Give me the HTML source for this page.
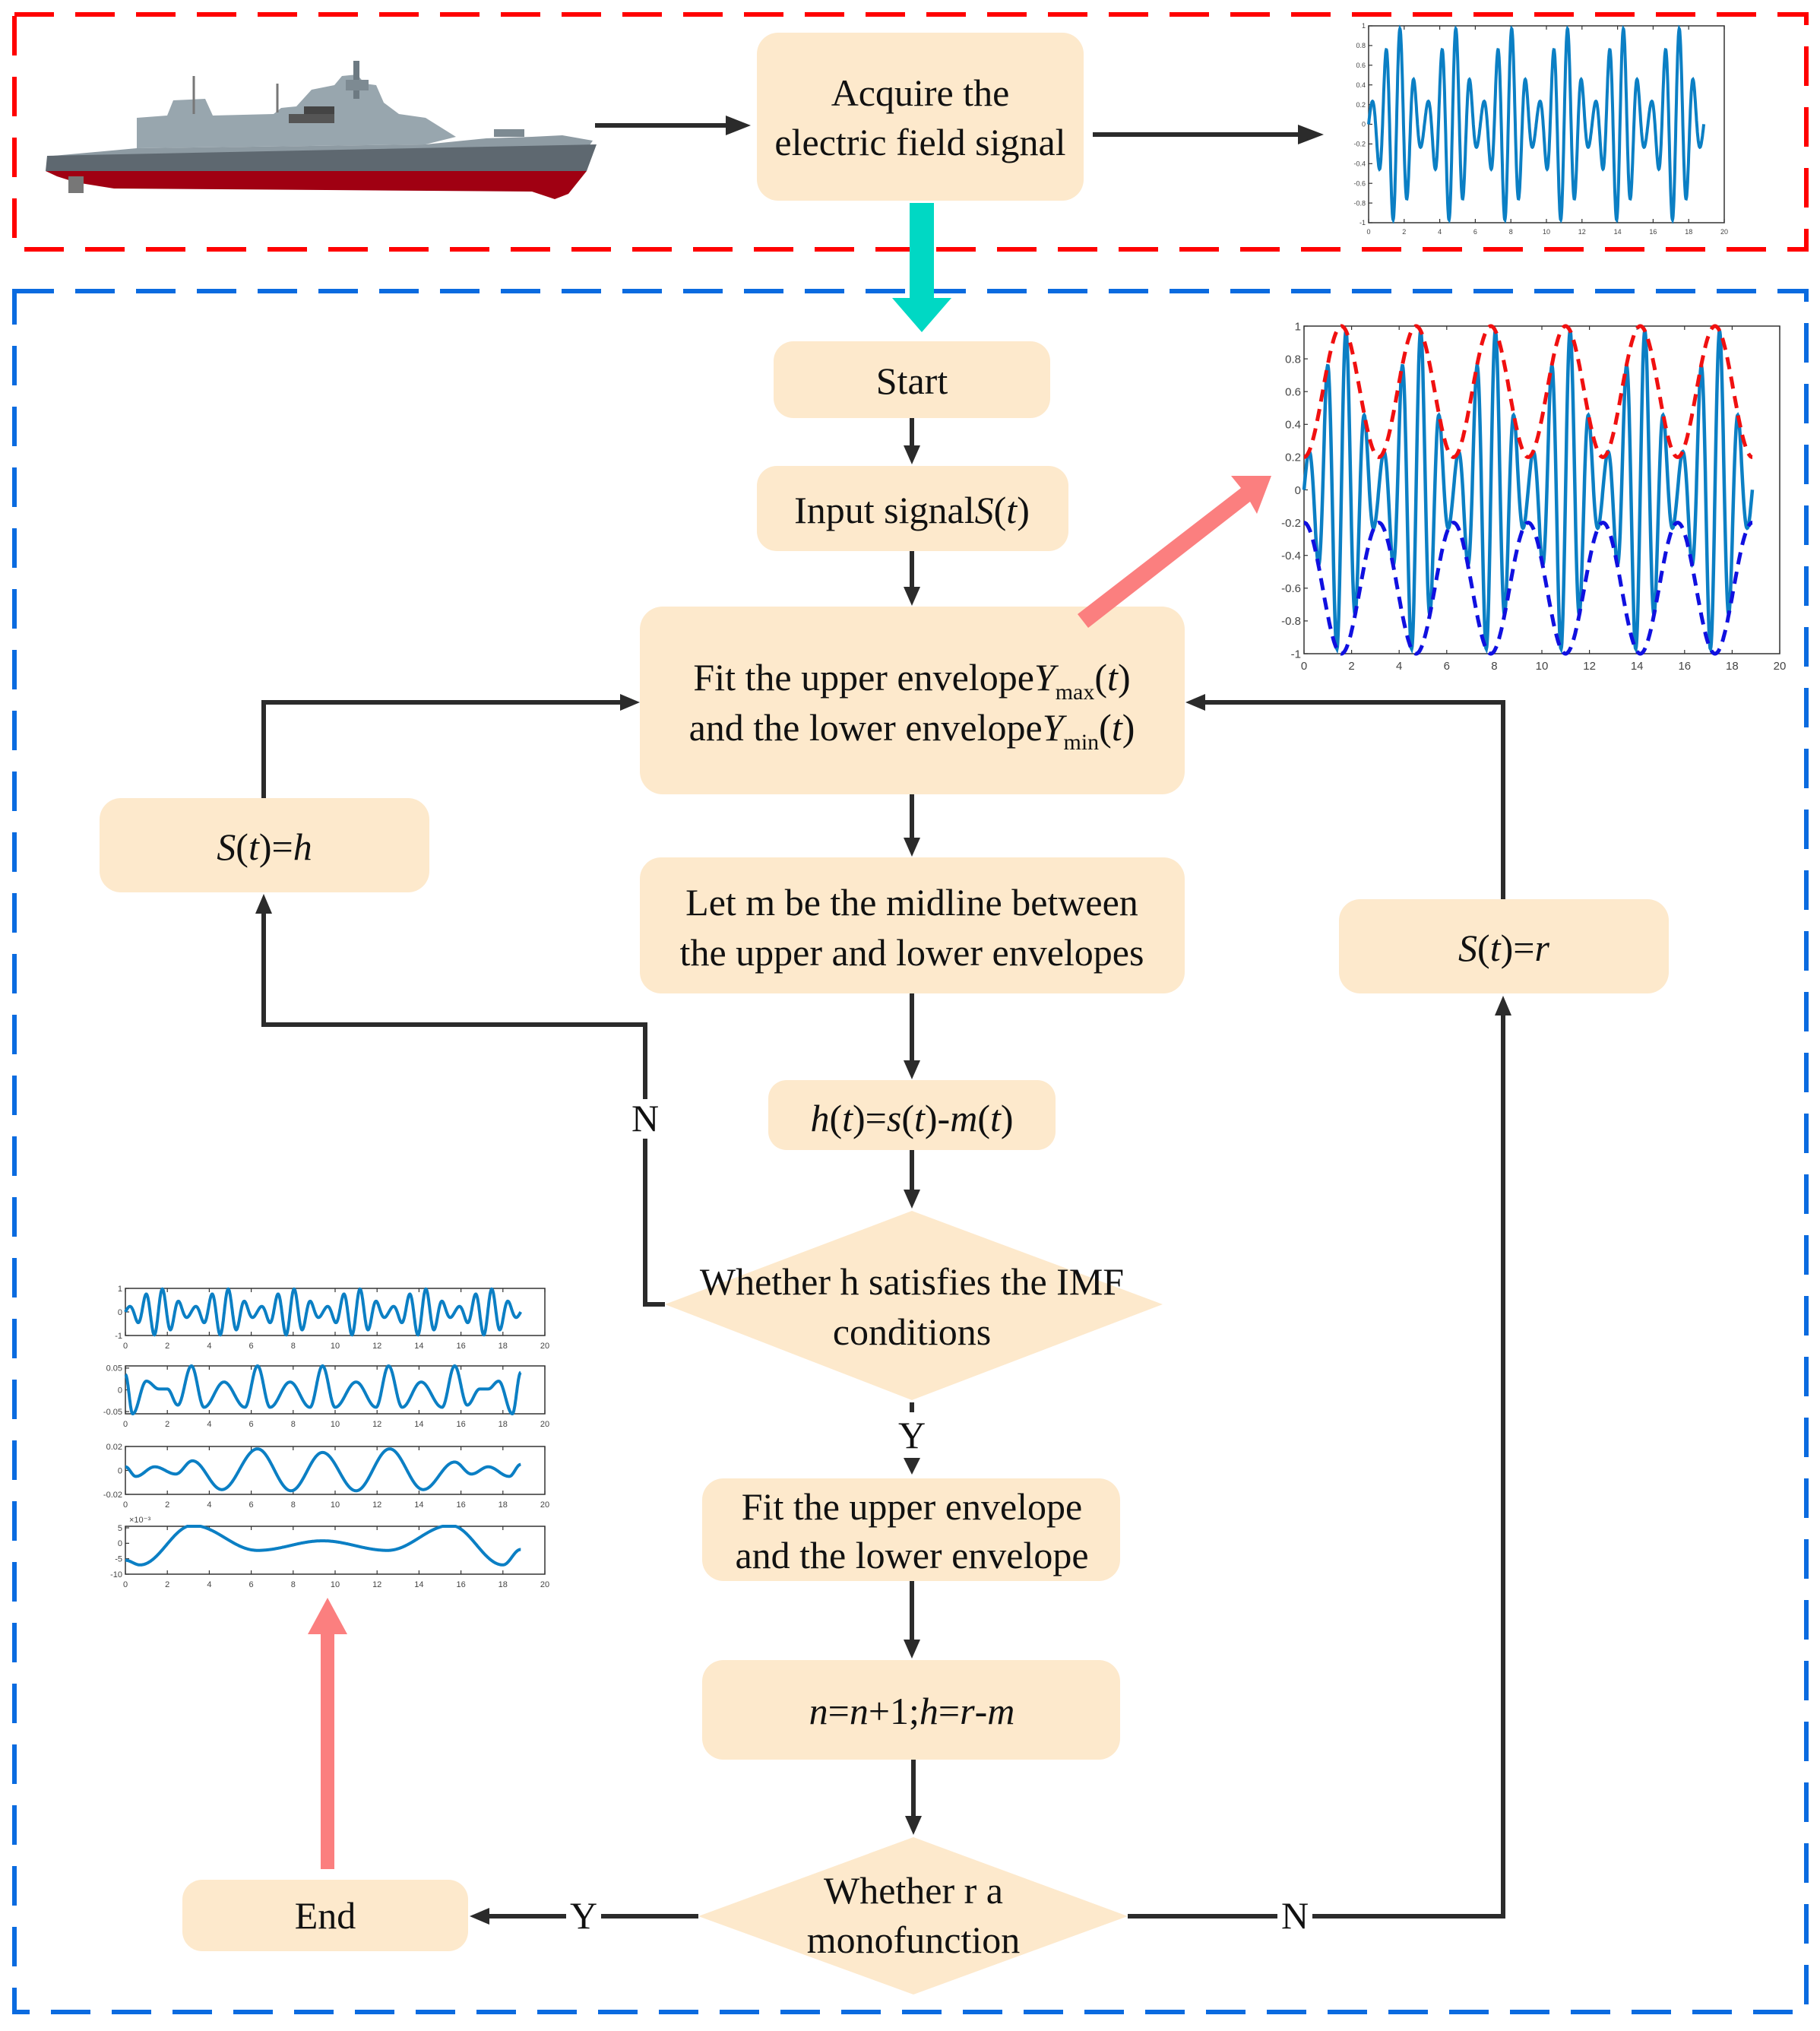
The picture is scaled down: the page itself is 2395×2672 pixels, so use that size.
<!DOCTYPE html>
<html><head><meta charset="utf-8"><style>
html,body{margin:0;padding:0;background:#fff}
svg{display:block}
text{font-family:"Liberation Serif",serif;fill:#111}
.bx{fill:#fde9cc}
.ln{stroke:#2b2b2b;stroke-width:6;fill:none}
.ah{fill:#2b2b2b}
.t{font-size:50px;text-anchor:middle}
.ax{fill:#fff;stroke:#333;stroke-width:1.5}
.tk{font-family:"Liberation Sans",sans-serif;fill:#444;text-anchor:middle}
</style></head><body>
<svg id="s" width="2395" height="2672" viewBox="0 0 2395 2672" xmlns="http://www.w3.org/2000/svg">
<!-- frames -->
<rect x="19" y="19" width="2358" height="309" fill="none" stroke="#f00" stroke-width="6" stroke-dasharray="52,28"/>
<rect x="19" y="383" width="2358" height="2264" fill="none" stroke="#0a6be0" stroke-width="6" stroke-dasharray="52,28"/>

<!-- ship -->
<g>
<polygon points="180,195 180,155 220,152 228,132 270,130 280,152 360,150 370,142 390,140 410,118 440,112 450,100 470,98 480,110 495,112 505,135 525,150 560,155 600,180 560,190" fill="#98a6ae"/>
<rect x="465" y="80" width="8" height="50" fill="#6d7a82"/>
<rect x="455" y="105" width="30" height="14" fill="#7d8a92"/>
<rect x="380" y="150" width="60" height="12" fill="#555"/>
<rect x="400" y="140" width="40" height="10" fill="#444"/>
<rect x="650" y="170" width="40" height="10" fill="#7d8a92"/>
<line x1="255" y1="100" x2="255" y2="150" stroke="#777" stroke-width="3"/>
<line x1="365" y1="110" x2="365" y2="148" stroke="#777" stroke-width="3"/>
<polygon points="70,205 180,195 560,190 640,182 700,180 740,178 780,185 770,200 62,210" fill="#8e9ba3"/>
<polygon points="62,205 785,190 772,225 60,225" fill="#5e6870"/>
<polygon points="60,225 772,225 748,255 730,262 700,252 150,248 100,240 75,232" fill="#a00012"/>
<rect x="90" y="232" width="20" height="22" fill="#777"/>
</g>

<!-- top arrows -->
<line x1="783" y1="165" x2="960" y2="165" class="ln"/>
<polygon points="988,165 955,152 955,178" class="ah"/>
<line x1="1438" y1="177" x2="1710" y2="177" class="ln"/>
<polygon points="1742,177 1708,164 1708,190" class="ah"/>

<!-- acquire box -->
<rect x="996" y="43" width="430" height="221" rx="28" class="bx"/>
<text x="1211" y="139" class="t">Acquire the</text>
<text x="1211" y="204" class="t">electric field signal</text>

<!-- cyan arrow -->
<polygon points="1197,267 1229,267 1229,392 1252,392 1213,437 1174,392 1197,392" fill="#00d8c4"/>

<!-- flow boxes -->
<rect x="1018" y="449" width="364" height="101" rx="26" class="bx"/>
<text x="1200" y="518" class="t">Start</text>
<line x1="1200" y1="550" x2="1200" y2="590" class="ln"/><polygon points="1200,611 1189,586 1211,586" class="ah"/>

<rect x="996" y="613" width="410" height="112" rx="26" class="bx"/>
<text x="1200" y="688" class="t">Input signal<tspan font-style="italic">S</tspan>(<tspan font-style="italic">t</tspan>)</text>
<line x1="1200" y1="725" x2="1200" y2="775" class="ln"/><polygon points="1200,797 1189,772 1211,772" class="ah"/>

<rect x="842" y="798" width="717" height="247" rx="30" class="bx"/>
<text x="1200" y="908" class="t">Fit the upper envelope<tspan font-style="italic">Y</tspan><tspan font-size="30" dy="12">max</tspan><tspan dy="-12">(</tspan><tspan font-style="italic">t</tspan>)</text>
<text x="1200" y="974" class="t">and the lower envelope<tspan font-style="italic">Y</tspan><tspan font-size="30" dy="12">min</tspan><tspan dy="-12">(</tspan><tspan font-style="italic">t</tspan>)</text>
<line x1="1200" y1="1045" x2="1200" y2="1105" class="ln"/><polygon points="1200,1127 1189,1102 1211,1102" class="ah"/>

<rect x="842" y="1128" width="717" height="179" rx="28" class="bx"/>
<text x="1200" y="1204" class="t">Let m be the midline between</text>
<text x="1200" y="1270" class="t">the upper and lower envelopes</text>
<line x1="1200" y1="1307" x2="1200" y2="1398" class="ln"/><polygon points="1200,1420 1189,1395 1211,1395" class="ah"/>

<rect x="1011" y="1421" width="378" height="92" rx="24" class="bx"/>
<text x="1200" y="1488" class="t"><tspan font-style="italic">h</tspan>(<tspan font-style="italic">t</tspan>)=<tspan font-style="italic">s</tspan>(<tspan font-style="italic">t</tspan>)-<tspan font-style="italic">m</tspan>(<tspan font-style="italic">t</tspan>)</text>
<line x1="1200" y1="1513" x2="1200" y2="1568" class="ln"/><polygon points="1200,1590 1189,1565 1211,1565" class="ah"/>

<polygon points="1200,1593 1530,1716 1200,1842 875,1716" class="bx"/>
<text x="1200" y="1703" class="t">Whether h satisfies the IMF</text>
<text x="1200" y="1769" class="t">conditions</text>

<!-- N loop left -->
<polyline points="875,1716 849,1716 849,1348 347,1348 347,1200" class="ln"/>
<polygon points="347,1176 336,1202 358,1202" class="ah"/>
<rect x="826" y="1446" width="46" height="52" fill="#fff"/>
<text x="849" y="1488" class="t">N</text>

<rect x="131" y="1050" width="434" height="124" rx="28" class="bx"/>
<text x="348" y="1131" class="t"><tspan font-style="italic">S</tspan>(<tspan font-style="italic">t</tspan>)=<tspan font-style="italic">h</tspan></text>
<polyline points="347,1050 347,924 820,924" class="ln"/>
<polygon points="842,924 816,913 816,935" class="ah"/>

<!-- Y down -->
<line x1="1200" y1="1845" x2="1200" y2="1858" class="ln"/>
<text x="1200" y="1905" class="t">Y</text>
<polygon points="1200,1940 1189,1918 1211,1918" class="ah"/>

<rect x="924" y="1945" width="550" height="135" rx="28" class="bx"/>
<text x="1200" y="1999" class="t">Fit the upper envelope</text>
<text x="1200" y="2063" class="t">and the lower envelope</text>
<line x1="1200" y1="2080" x2="1200" y2="2160" class="ln"/><polygon points="1200,2182 1189,2157 1211,2157" class="ah"/>

<rect x="924" y="2184" width="550" height="131" rx="28" class="bx"/>
<text x="1200" y="2268" class="t"><tspan font-style="italic">n</tspan>=<tspan font-style="italic">n</tspan>+1;<tspan font-style="italic">h</tspan>=<tspan font-style="italic">r</tspan>-<tspan font-style="italic">m</tspan></text>
<line x1="1202" y1="2315" x2="1202" y2="2392" class="ln"/><polygon points="1202,2414 1191,2389 1213,2389" class="ah"/>

<polygon points="1202,2417 1484,2521 1202,2624 919,2521" class="bx"/>
<text x="1202" y="2504" class="t">Whether r a</text>
<text x="1202" y="2569" class="t">monofunction</text>

<!-- Y to end -->
<line x1="919" y1="2521" x2="640" y2="2521" class="ln"/>
<polygon points="618,2521 644,2510 644,2532" class="ah"/>
<rect x="745" y="2495" width="46" height="52" fill="#fff"/>
<text x="768" y="2537" class="t">Y</text>
<rect x="240" y="2473" width="376" height="94" rx="26" class="bx"/>
<text x="428" y="2537" class="t">End</text>

<!-- N right -->
<polyline points="1484,2521 1978,2521 1978,1332" class="ln"/>
<polygon points="1978,1310 1967,1336 1989,1336" class="ah"/>
<rect x="1681" y="2495" width="46" height="52" fill="#fff"/>
<text x="1704" y="2537" class="t">N</text>
<rect x="1762" y="1183" width="434" height="124" rx="28" class="bx"/>
<text x="1979" y="1264" class="t"><tspan font-style="italic">S</tspan>(<tspan font-style="italic">t</tspan>)=<tspan font-style="italic">r</tspan></text>
<polyline points="1978,1183 1978,924 1582,924" class="ln"/>
<polygon points="1560,924 1586,913 1586,935" class="ah"/>

<!-- pink arrows -->
<polygon points="1418,808 1633,642 1620,626 1673,626 1654,676 1645,660 1432,826" fill="#fb7f7f"/>
<polygon points="422,2459 440,2459 440,2150 457,2150 431,2102 405,2150 422,2150" fill="#fb7f7f"/>

<g id="charts"></g>
</svg>
<script>
(function(){
var ns="http://www.w3.org/2000/svg",g=document.getElementById("charts");
function el(n,a,t){var e=document.createElementNS(ns,n);for(var k in a)e.setAttribute(k,a[k]);if(t!=null)e.textContent=t;g.appendChild(e);return e;}
function chart(x0,y0,x1,y1,ymin,ymax,yt,fs,fns){
 el("rect",{x:x0,y:y0,width:x1-x0,height:y1-y0,"class":"ax"});
 for(var i=0;i<=10;i++){var x=x0+(x1-x0)*i/10;
  el("line",{x1:x,y1:y1,x2:x,y2:y1-5,stroke:"#333","stroke-width":1.2});
  el("line",{x1:x,y1:y0,x2:x,y2:y0+5,stroke:"#333","stroke-width":1.2});
  el("text",{x:x,y:y1+fs+6,"class":"tk","font-size":fs},String(i*2));}
 yt.forEach(function(v){var y=y1-(v[0]-ymin)/(ymax-ymin)*(y1-y0);
  el("line",{x1:x0,y1:y,x2:x0+5,y2:y,stroke:"#333","stroke-width":1.2});
  el("text",{x:x0-4,y:y+fs*0.35,"class":"tk","font-size":fs,style:"text-anchor:end"},v[1]);});
 fns.forEach(function(f){var d="";for(var j=0;j<=1200;j++){var t=18.85*j/1200;var v=f[0](t);v=Math.max(ymin,Math.min(ymax,v));
  var x=x0+(x1-x0)*t/20,y=y1-(v-ymin)/(ymax-ymin)*(y1-y0);d+=(j?"L":"M")+x.toFixed(1)+","+y.toFixed(1);}
  var a={d:d,fill:"none",stroke:f[1],"stroke-width":f[2]};if(f[3])a["stroke-dasharray"]=f[3];el("path",a);});
}
function interp(pts){return function(t){for(var i=0;i<pts.length-1;i++){if(t<=pts[i+1][0]){var a=pts[i],b=pts[i+1];var u=(t-a[0])/(b[0]-a[0]);u=(1-Math.cos(Math.PI*u))/2;return a[1]+(b[1]-a[1])*u;}}return pts[pts.length-1][1];};}
function s(t){var e=0.2+0.8*Math.pow(Math.sin(t),2);return e*Math.sin(8*t);}
var yt1=[];for(var k=-5;k<=5;k++){var v=k/5;yt1.push([v,(v===0?"0":(Math.abs(v)===1?String(v):v.toFixed(1)))]);}
chart(1801,34,2269,293,-1,1,yt1,9,[[s,"#0b7fc4",4]]);
chart(1716,429,2342,860,-1,1,yt1,15,[[s,"#0b7fc4",4.5],[function(t){return 0.2+0.8*Math.pow(Math.sin(t),2)},"#f01010",5,"16,10"],[function(t){return -(0.2+0.8*Math.pow(Math.sin(t),2))},"#1010e0",5,"16,10"]]);
chart(165,1695,717,1757,-1,1,[[1,"1"],[0,"0"],[-1,"-1"]],11,[[s,"#0b7fc4",4]]);
var imf2=[[0,0.035],[0.35,-0.055],[1,0.02],[1.6,0.002],[2.0,0.002],[2.5,-0.035],[3.15,0.055],[3.75,-0.04],[4.7,0.018],[5.7,-0.04],[6.3,0.055],[6.9,-0.04],[7.85,0.018],[8.8,-0.04],[9.4,0.055],[10,-0.04],[11,0.018],[11.95,-0.04],[12.55,0.055],[13.2,-0.04],[14.1,0.018],[15.1,-0.04],[15.7,0.055],[16.3,-0.035],[16.9,0.002],[17.3,0.002],[17.8,0.02],[18.45,-0.055],[18.85,0.04]];
chart(165,1797,717,1860,-0.055,0.055,[[0.05,"0.05"],[0,"0"],[-0.05,"-0.05"]],11,[[interp(imf2),"#0b7fc4",4]]);
var imf3=[[0,0.003],[0.5,-0.005],[1.4,0.003],[2.4,-0.003],[3.2,0.008],[4.6,-0.016],[6.3,0.018],[7.9,-0.017],[9.4,0.015],[11,-0.017],[12.6,0.018],[14.2,-0.016],[15.7,0.007],[16.5,-0.003],[17.3,0.003],[18.3,-0.005],[18.85,0.005]];
chart(165,1903,717,1966,-0.02,0.02,[[0.02,"0.02"],[0,"0"],[-0.02,"-0.02"]],11,[[interp(imf3),"#0b7fc4",4]]);
var imf4=[[0,-5.5],[0.7,-7],[3.2,5.8],[6.3,-2.3],[9.4,0.8],[12.5,-2.3],[15.5,5.8],[18,-7],[18.85,-2]];
chart(165,2008,717,2071,-10,5.5,[[5,"5"],[0,"0"],[-5,"-5"],[-10,"-10"]],11,[[interp(imf4),"#0b7fc4",4]]);
el("text",{x:170,y:2003,"class":"tk","font-size":11,style:"text-anchor:start"},"×10⁻³");
})();
</script>
</body></html>
